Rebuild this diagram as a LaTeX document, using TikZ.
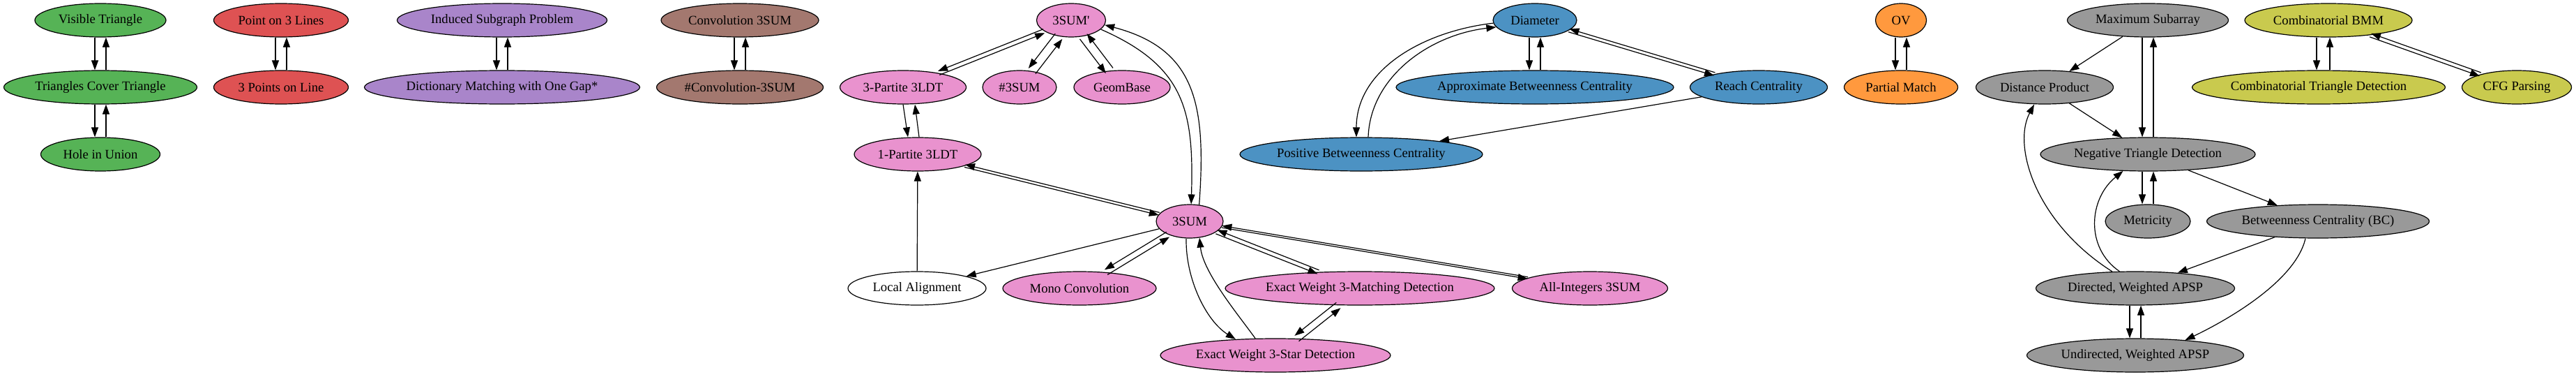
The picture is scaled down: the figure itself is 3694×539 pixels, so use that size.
\documentclass[tikz,border=0pt]{standalone}
\usepackage{fontspec}
\setmainfont{Liberation Serif}
\usetikzlibrary{shapes.geometric,arrows.meta,calc}
\definecolor{cgreen}{RGB}{86,179,86}
\definecolor{cred}{RGB}{222,82,83}
\definecolor{cpurple}{RGB}{169,133,202}
\definecolor{cbrown}{RGB}{163,120,111}
\definecolor{cpink}{RGB}{233,146,206}
\definecolor{cblue}{RGB}{76,146,195}
\definecolor{corange}{RGB}{255,153,62}
\definecolor{cgray}{RGB}{153,153,153}
\definecolor{colive}{RGB}{201,202,78}
\newcommand\lbl[1]{\makebox[0pt]{#1}}
\newcommand\vpair[2]{%
  \draw[arr] ($(#1.south)+(-8,0)$) -- ($(#2.north)+(-8,0)$);
  \draw[arr] ($(#2.north)+(8,0)$) -- ($(#1.south)+(8,0)$);}
\newcommand\spair[4]{%
  \draw[arr,transform canvas={shift={({-1*(#3)},{-1*(#4)})}}] (#1) -- (#2);
  \draw[arr,transform canvas={shift={(#3,#4)}}] (#2) -- (#1);}
\begin{document}
\begin{tikzpicture}[x=0.75pt,y=-0.75pt,
  nd/.style={ellipse, draw=black, line width=0.9pt, inner sep=0pt,
    minimum height=36pt, minimum width={#1*0.75pt},
    font=\fontsize{14pt}{16pt}\selectfont},
  arr/.style={line width=0.9pt, -{Triangle[length=10.5pt,width=7.5pt]}}]
\path[use as bounding box, fill=white] (0,0) rectangle (3694,539);
% green
\node[nd=188,fill=cgreen] (vt) at (144,29) {\lbl{Visible Triangle}};
\node[nd=277,fill=cgreen] (tct) at (144,125) {\lbl{Triangles Cover Triangle}};
\node[nd=171,fill=cgreen] (hiu) at (144,221) {\lbl{Hole in Union}};
% red
\node[nd=193,fill=cred] (p3l) at (403,29) {\lbl{Point on 3 Lines}};
\node[nd=193,fill=cred] (p3p) at (403,125) {\lbl{3 Points on Line}};
% purple
\node[nd=301,fill=cpurple] (isp) at (720,29) {\lbl{Induced Subgraph Problem}};
\node[nd=395,fill=cpurple] (dm) at (720,125) {\lbl{Dictionary Matching with One Gap*}};
% brown
\node[nd=226,fill=cbrown] (c3) at (1061,29) {\lbl{Convolution 3SUM}};
\node[nd=239,fill=cbrown] (hc3) at (1061,125) {\lbl{\#Convolution-3SUM}};
% pink
\node[nd=99,fill=cpink] (s3p) at (1536,29) {\lbl{3SUM\textquotesingle}};
\node[nd=181,fill=cpink] (tp) at (1295,125) {\lbl{3-Partite 3LDT}};
\node[nd=106,fill=cpink] (h3) at (1462,125) {\lbl{\#3SUM}};
\node[nd=138,fill=cpink] (gb) at (1609,125) {\lbl{GeomBase}};
\node[nd=182,fill=cpink] (op) at (1316,221) {\lbl{1-Partite 3LDT}};
\node[nd=96,fill=cpink] (s3) at (1706,317) {\lbl{3SUM}};
\node[nd=198,fill=white] (la) at (1315,413) {\lbl{Local Alignment}};
\node[nd=220,fill=cpink] (mc) at (1548,413) {\lbl{Mono Convolution}};
\node[nd=386,fill=cpink] (ewm) at (1950,413) {\lbl{Exact Weight 3-Matching Detection}};
\node[nd=223,fill=cpink] (ai) at (2280,413) {\lbl{All-Integers 3SUM}};
\node[nd=330,fill=cpink] (ews) at (1829,509) {\lbl{Exact Weight 3-Star Detection}};
% blue
\node[nd=120,fill=cblue] (diam) at (2201,29) {\lbl{Diameter}};
\node[nd=398,fill=cblue] (abc) at (2201,125) {\lbl{Approximate Betweenness Centrality}};
\node[nd=197,fill=cblue] (rc) at (2522,125) {\lbl{Reach Centrality}};
\node[nd=348,fill=cblue] (pbc) at (1952,221) {\lbl{Positive Betweenness Centrality}};
% orange
\node[nd=73,fill=corange] (ov) at (2726,29) {\lbl{OV}};
\node[nd=163,fill=corange] (pm) at (2726,125) {\lbl{Partial Match}};
% gray
\node[nd=231,fill=cgray] (ms) at (3080,29) {\lbl{Maximum Subarray}};
\node[nd=197,fill=cgray] (dp) at (2932,125) {\lbl{Distance Product}};
\node[nd=308,fill=cgray] (ntd) at (3080,221) {\lbl{Negative Triangle Detection}};
\node[nd=122,fill=cgray] (met) at (3080,317) {\lbl{Metricity}};
\node[nd=319,fill=cgray] (bc) at (3324,317) {\lbl{Betweenness Centrality (BC)}};
\node[nd=285,fill=cgray] (dapsp) at (3062,413) {\lbl{Directed, Weighted APSP}};
\node[nd=311,fill=cgray] (uapsp) at (3062,509) {\lbl{Undirected, Weighted APSP}};
% olive
\node[nd=240,fill=colive] (bmm) at (3339,29) {\lbl{Combinatorial BMM}};
\node[nd=363,fill=colive] (ctd) at (3325,125) {\lbl{Combinatorial Triangle Detection}};
\node[nd=157,fill=colive] (cfg) at (3609,125) {\lbl{CFG Parsing}};

% vertical pairs
\vpair{vt}{tct}
\vpair{tct}{hiu}
\vpair{p3l}{p3p}
\vpair{isp}{dm}
\vpair{c3}{hc3}
\vpair{diam}{abc}
\vpair{ov}{pm}
\vpair{ms}{ntd}
\vpair{ntd}{met}
\vpair{dapsp}{uapsp}
% near-vertical pairs
\draw[arr] ($(bmm.south)+(-17,0)$) -- ($(ctd.north)+(-3,0)$);
\draw[arr] ($(ctd.north)+(16,0)$) -- ($(bmm.south)+(2,0)$);
\draw[arr] (tp.south) -- ($(op.north)+(-14,0)$);
\draw[arr] ($(op.north)+(2,0)$) -- ($(tp.south)+(17,0)$);
% slanted pairs
\spair{s3p}{tp}{1.10}{2.75}
\spair{s3p}{h3}{5.02}{3.87}
\spair{s3p}{gb}{5.07}{-3.85}
\spair{op}{s3}{0.46}{-1.86}
\spair{s3}{mc}{2.16}{3.55}
\spair{s3}{ewm}{1.07}{-2.73}
\spair{s3}{ai}{0.22}{-1.30}
\spair{ewm}{ews}{3.09}{3.89}
\spair{diam}{rc}{0.66}{-2.2}
\spair{bmm}{cfg}{0.90}{-2.52}
% single edges
\draw[arr] (rc) -- (pbc);
\draw[arr] (s3) -- (la);
\draw[arr] (la) -- (op);
\draw[arr] (ms) -- (dp);
\draw[arr] (dp) -- (ntd);
\draw[arr] (ntd) -- (bc);
\draw[arr] (bc) -- (dapsp);
% curved edges
\draw[arr] (s3p.-17) .. controls (1700,95) and (1712,160) .. (s3.85);
\draw[arr] (s3.60) .. controls (1730,150) and (1715,70) .. (s3p.-8);
\draw[arr] (diam.184) .. controls (2040,45) and (1945,100) .. ($(pbc.north)+(-7,0)$);
\draw[arr] ($(pbc.north)+(10,0)$) .. controls (1965,110) and (2050,50) .. (diam.190);
\draw[arr] ($(s3.south)+(-5,0)$) .. controls (1700,400) and (1730,460) .. (ews.158);
\draw[arr] (ews.140) .. controls (1775,450) and (1725,390) .. (s3.301);
\draw[arr] (dapsp.144) .. controls (2920,320) and (2885,210) .. ($(dp.south)+(-15,0)$);
\draw[arr] (dapsp.133) .. controls (2990,355) and (2995,285) .. (ntd.214);
\draw[arr] ($(bc.south)+(-18,0)$) .. controls (3290,410) and (3170,470) .. (uapsp.17);
\end{tikzpicture}
\end{document}
